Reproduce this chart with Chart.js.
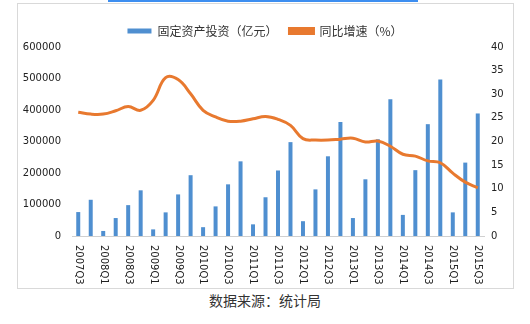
<!DOCTYPE html>
<html>
<head>
<meta charset="utf-8">
<script src="https://cdn.jsdelivr.net/npm/chart.js@4.4.0/dist/chart.umd.min.js"></script>
<style>
  body { margin: 0; background: #fff; font-family: "Noto Sans CJK SC", "DejaVu Sans", sans-serif; }
  #wrap { position: relative; width: 530px; height: 324px; }
  #frame { position: absolute; left: 17px; top: 3px; width: 497px; height: 286px; border: 1px solid #d9d9d9; box-sizing: border-box; }
  #topline { position: absolute; left: 108px; top: 0; width: 310px; height: 2px; background: #3d8ef0; }
  #box { position: absolute; left: 0; top: 0; width: 530px; height: 290px; }
  #source { position: absolute; left: 0; width: 530px; top: 290px; text-align: center; font-size: 14px; color: #333; }
</style>
</head>
<body>
<div id="wrap">
  <div id="frame"></div>
  <div id="topline"></div>
  <div id="box"><canvas id="fixedChart"></canvas></div>
  <div id="source">数据来源：统计局</div>
</div>
<script>
// quarters 2007Q3 .. 2015Q3
const quarters = [
  '2007Q3','2007Q4','2008Q1','2008Q2','2008Q3','2008Q4','2009Q1','2009Q2','2009Q3','2009Q4',
  '2010Q1','2010Q2','2010Q3','2010Q4','2011Q1','2011Q2','2011Q3','2011Q4','2012Q1','2012Q2',
  '2012Q3','2012Q4','2013Q1','2013Q2','2013Q3','2013Q4','2014Q1','2014Q2','2014Q3','2014Q4',
  '2015Q1','2015Q2','2015Q3'
];
// 固定资产投资（亿元）
const investment = [
  76000, 115000, 16000, 57000, 98000, 145000, 21000, 75000, 132000, 193000,
  28000, 94000, 164000, 237000, 37000, 123000, 208000, 298000, 47000, 148000,
  253000, 362000, 57000, 180000, 307000, 434000, 67000, 209000, 355000, 497000,
  75000, 233000, 389000
];
// 同比增速（%）
const growth = [
  26.2, 25.8, 25.8, 26.5, 27.4, 26.6, 28.7, 33.5, 33.1, 30.1,
  26.6, 25.2, 24.3, 24.3, 24.8, 25.3, 24.7, 23.4, 20.6, 20.3,
  20.3, 20.5, 20.7, 19.9, 20.1, 19.0, 17.3, 16.9, 15.9, 15.5,
  13.3, 11.4, 10.2
];
const leftTicks = [0, 100000, 200000, 300000, 400000, 500000, 600000];
const rightTicks = [0, 5, 10, 15, 20, 25, 30, 35, 40];

const tickFont = { family: 'DejaVu Sans', size: 10 };
const tickColor = '#222';

// x labels in the picture read top to bottom, so draw them turned clockwise
const verticalLabels = {
    id: 'verticalLabels',
    afterDraw(chart) {
        const scale = chart.scales.x;
        const ctx = chart.ctx;
        ctx.save();
        ctx.font = '10px "DejaVu Sans"';
        ctx.fillStyle = tickColor;
        ctx.textAlign = 'left';
        ctx.textBaseline = 'middle';
        scale.ticks.forEach((t, i) => {
            if (i % 2 !== 0) return;
            const x = scale.getPixelForTick(i);
            ctx.save();
            ctx.translate(x, scale.top + 9);
            ctx.rotate(Math.PI / 2);
            ctx.fillText(quarters[i], 0, 0);
            ctx.restore();
        });
        ctx.restore();
    }
};

new Chart(document.getElementById('fixedChart'), {
    type: 'bar',
    data: {
        labels: quarters,
        datasets: [{
            type: 'line',
            label: '同比增速（%）',
            data: growth,
            yAxisID: 'y2',
            borderColor: '#e8792f',
            backgroundColor: '#e8792f',
            borderWidth: 3,
            pointRadius: 0,
            tension: 0.4,
            order: 0
        }, {
            label: '固定资产投资（亿元）',
            data: investment,
            yAxisID: 'y',
            backgroundColor: '#4f8fd0',
            barPercentage: 0.4,
            categoryPercentage: 0.8,
            order: 1
        }]
    },
    options: {
        responsive: true,
        maintainAspectRatio: false,
        animation: false,
        layout: { padding: { top: 13, left: 0, right: 0, bottom: 0 } },
        plugins: {
            legend: {
                reverse: true,
                labels: {
                    boxWidth: 24,
                    boxHeight: 5,
                    color: '#333',
                    font: { family: 'Noto Sans CJK SC', size: 12 },
                    padding: 12
                }
            },
            tooltip: { enabled: false }
        },
        scales: {
            x: {
                offset: true,
                grid: { display: false, drawTicks: false },
                border: { display: true, color: '#d0d0d0' },
                ticks: {
                    autoSkip: false,
                    minRotation: 90,
                    maxRotation: 90,
                    color: 'rgba(0,0,0,0)',
                    font: tickFont,
                    callback: (v, i) => (i % 2 === 0 ? quarters[i] : '')
                },
                afterFit: s => { s.height = 54; }
            },
            y: {
                position: 'left',
                min: 0,
                max: 600000,
                afterBuildTicks: s => { s.ticks = leftTicks.map(v => ({ value: v })); },
                grid: { display: false, drawTicks: false },
                border: { display: false },
                ticks: { color: tickColor, font: tickFont, padding: 11, callback: v => String(v) },
                afterFit: s => { s.width = 72; }
            },
            y2: {
                position: 'right',
                min: 0,
                max: 40,
                afterBuildTicks: s => { s.ticks = rightTicks.map(v => ({ value: v })); },
                grid: { display: false, drawTicks: false },
                border: { display: false },
                ticks: { color: tickColor, font: tickFont, padding: 7, callback: v => String(v) },
                afterFit: s => { s.width = 46; }
            }
        }
    },
    plugins: [verticalLabels]
});
</script>
</body>
</html>
